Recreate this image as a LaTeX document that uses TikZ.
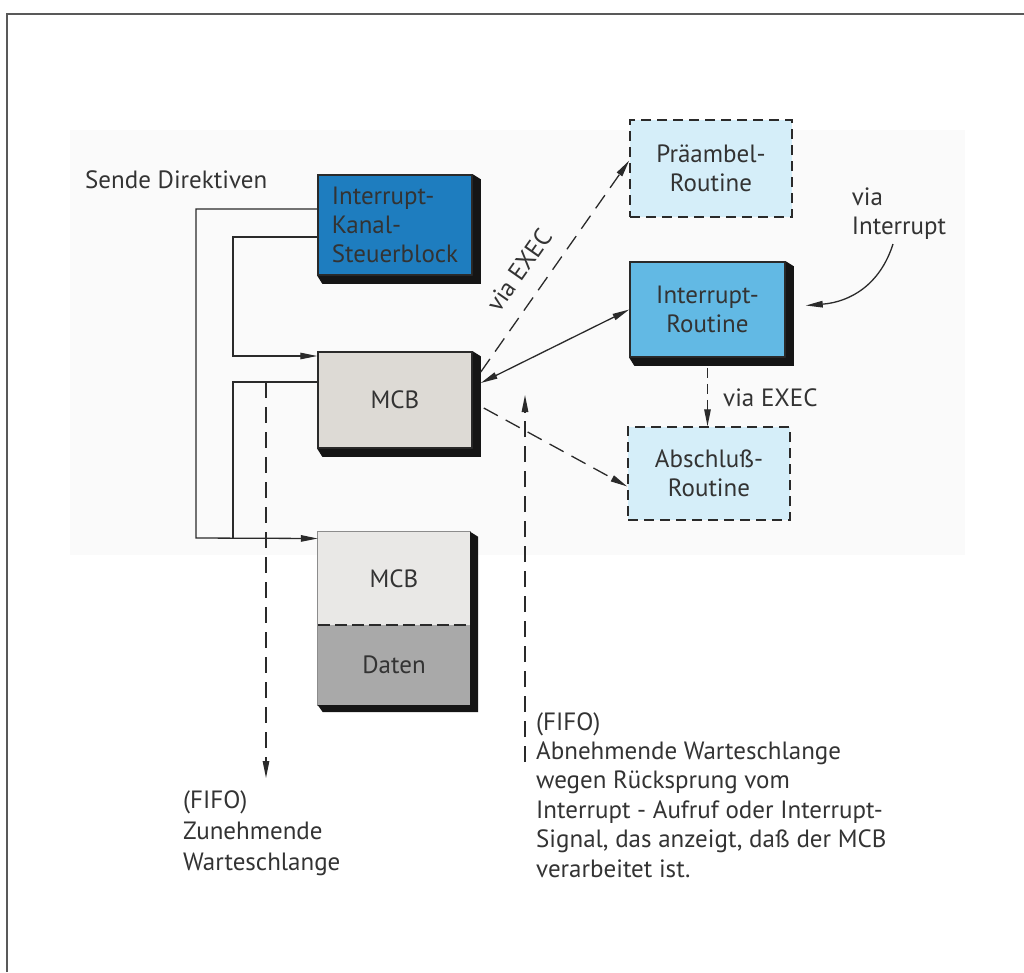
\documentclass[tikz,border=0pt]{standalone}
\usepackage{fontspec}
\setmainfont{PT Sans}
\usetikzlibrary{arrows.meta}
\definecolor{ikblue}{HTML}{1E7DBF}
\definecolor{irblue}{HTML}{62B9E4}
\definecolor{lcyan}{HTML}{D5EEF9}
\definecolor{mcbgray}{HTML}{DDDAD5}
\definecolor{mcblight}{HTML}{E9E8E6}
\definecolor{datgray}{HTML}{A9A9A9}
\definecolor{linec}{HTML}{2A2A2A}
\definecolor{txt}{HTML}{333333}
\definecolor{shd}{HTML}{151515}
\begin{document}
\begin{tikzpicture}[x=1pt,y=-1pt,
  font=\fontsize{25}{29}\selectfont,
  blk/.style={rectangle, draw=linec, line width=1.5pt, inner sep=0pt, text=txt, align=center},
  dbox/.style={blk, fill=lcyan, dash pattern=on 10pt off 6pt},
  conn/.style={draw=linec, line width=1.3pt},
  dsh/.style={dash pattern=on 16pt off 9pt},
  tip/.style={-{Triangle[length=17pt,width=6.5pt]}},
  lbl/.style={text=txt, inner sep=0pt, align=left}]
\useasboundingbox (0,0) rectangle (1024,972);
% faint background
\fill[black!2] (70,130) rectangle (965,555);
% frame
\draw[line width=1.5pt, black!65] (7,972) -- (7,14) -- (1024,14);

% nodes
\node[blk, fill=ikblue, minimum width=154pt, minimum height=100pt, align=left] (ik) at (395,225)
  {Interrupt-\\Kanal-\\Steuerblock};
\node[blk, fill=mcbgray, minimum width=154pt, minimum height=96pt] (mcb) at (395,400) {MCB};
\node[rectangle, inner sep=0pt, fill=mcblight, text=txt, minimum width=152pt, minimum height=93pt] (mcbb) at (394,578.5) {MCB};
\node[rectangle, inner sep=0pt, fill=datgray, text=txt, minimum width=152pt, minimum height=80pt] (dat) at (394,665) {Daten};
\node[dbox, minimum width=162pt, minimum height=97pt] (pra) at (711,168.5) {Präambel-\\Routine};
\node[blk, fill=irblue, minimum width=155pt, minimum height=95pt] (intr) at (707.5,309.5) {Interrupt-\\Routine};
\node[dbox, minimum width=162pt, minimum height=93pt] (abs) at (709,473.5) {Abschluß-\\Routine};

% lower box outline and divider
\draw[line width=1pt, black!45] (mcbb.north west) rectangle (dat.south east);
\draw[line width=1.6pt, linec, dash pattern=on 12pt off 5pt] (dat.north west) -- (dat.north east);

% shadows
\foreach \n in {ik,mcb,intr}{
  \fill[shd] (\n.north east) -- ([xshift=8pt,yshift=-5pt]\n.north east)
    -- ([xshift=8pt,yshift=-8pt]\n.south east) -- ([xshift=5pt,yshift=-8pt]\n.south west)
    -- (\n.south west) -- (\n.south east) -- cycle;}
\fill[shd] (mcbb.north east) -- ([xshift=8pt,yshift=-5pt]mcbb.north east)
  -- ([xshift=8pt,yshift=-7pt]dat.south east) -- ([xshift=5pt,yshift=-7pt]dat.south west)
  -- (dat.south west) -- (dat.south east) -- cycle;

% labels
\node[lbl, anchor=west] (send) at (85,180) {Sende Direktiven};
\node[lbl] (vi) at (899,214) {via\\Interrupt};
\node[lbl, rotate=55] (vexec1) at (519,270) {via EXEC};
\node[lbl, anchor=west] (vexec2) at (723,398) {via EXEC};
\node[lbl, anchor=north west, font=\fontsize{25}{31}\selectfont] (fifo1) at (183,790)
  {(FIFO)\\Zunehmende\\Warteschlange};
\node[lbl, anchor=north west, font=\fontsize{25}{29.4}\selectfont] (fifo2) at (536,712)
  {(FIFO)\\Abnehmende Warteschlange\\wegen Rücksprung vom\\Interrupt - Aufruf oder Interrupt-\\Signal, das anzeigt, daß der MCB\\verarbeitet ist.};

% coordinates
\coordinate (j1) at (196,538);
\coordinate (j2) at (233,356);
\coordinate (j3) at (233,538);
\coordinate (q1s) at (266,382);
\coordinate (q1e) at (266,778);
\coordinate (q2s) at (525,762);
\coordinate (q2e) at (525,395);
\coordinate (vis) at (893,244);

% connectors
\draw[conn, tip] ([yshift=16pt]ik.west) -| (j1) -- ([yshift=40pt]mcbb.west);
\draw[conn, tip] ([yshift=-12pt]ik.west) -| (j2) -- ([yshift=44pt]mcb.west);
\draw[conn] ([yshift=18pt]mcb.west) -| (j3);
\draw[conn, dsh, tip] (q1s) -- (q1e);
\draw[conn, dsh, tip] (q2s) -- (q2e);
\draw[conn, {Triangle[length=17pt,width=6.5pt]}-{Triangle[length=17pt,width=6.5pt]}]
  ([xshift=8pt,yshift=17pt]mcb.east) -- (intr.west);
\draw[conn, dsh, tip] ([xshift=8pt,yshift=28pt]mcb.east) -- ([yshift=8pt]pra.west);
\draw[conn, dsh, tip] ([xshift=11pt,yshift=-8pt]mcb.east) -- ([yshift=-13pt]abs.west);
\draw[conn, dash pattern=on 10pt off 6pt, tip] ([yshift=-10pt]intr.south) -- (intr.south |- abs.north);
\draw[conn, tip] (vis) .. controls (880,285) and (850,302) .. ([xshift=20pt,yshift=4pt]intr.east);
\end{tikzpicture}
\end{document}
